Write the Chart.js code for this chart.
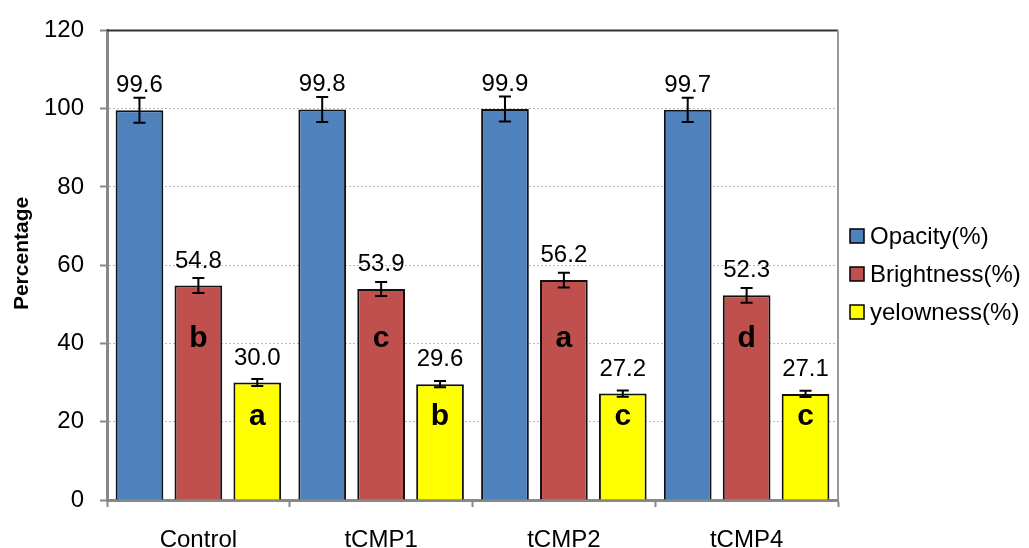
<!DOCTYPE html>
<html>
<head>
<meta charset="utf-8">
<script src="https://cdn.jsdelivr.net/npm/chart.js@4"></script>
<style>
  html, body { margin: 0; padding: 0; background: #fff; }
  #wrap { width: 1029px; height: 548px; }
</style>
</head>
<body>
<div id="wrap"><canvas id="chart" width="1029" height="548"></canvas></div>
<script>
// data
const categories = ["Control", "tCMP1", "tCMP2", "tCMP4"];
const opacity = [99.6, 99.8, 99.9, 99.7];
const brightness = [54.8, 53.9, 56.2, 52.3];
const yellowness = [30.0, 29.6, 27.2, 27.1];
const opacityErr = [3.2, 3.2, 3.2, 3.1];
const brightnessErr = [1.9, 1.8, 1.9, 1.9];
const yellownessErr = [0.9, 0.8, 0.8, 0.8];
const brightnessLetters = ["b", "c", "a", "d"];
const yellownessLetters = ["a", "b", "c", "c"];
const yTicks = [0, 20, 40, 60, 80, 100, 120];
const yTitle = "Percentage";

const FONT = "'Liberation Sans', Arial, sans-serif";

// error bars, value labels, letters, plot frame, axis title and legend
const extras = {
  id: "extras",
  afterDatasetsDraw(chart) {
    const ctx = chart.ctx;
    const y = chart.scales.y;
    const area = chart.chartArea;
    const errs = [opacityErr, brightnessErr, yellownessErr];
    const letters = [null, brightnessLetters, yellownessLetters];
    const letterAt = [null, 39, 19.1];

    ctx.save();
    chart.data.datasets.forEach((ds, di) => {
      const meta = chart.getDatasetMeta(di);
      meta.data.forEach((bar, i) => {
        const v = ds.data[i];
        const e = errs[di][i];
        const top = y.getPixelForValue(v + e);
        const bot = y.getPixelForValue(v - e);
        // error bar
        ctx.strokeStyle = "#000";
        ctx.lineWidth = 2;
        ctx.beginPath();
        ctx.moveTo(bar.x, top); ctx.lineTo(bar.x, bot);
        ctx.moveTo(bar.x - 6, top); ctx.lineTo(bar.x + 6, top);
        ctx.moveTo(bar.x - 6, bot); ctx.lineTo(bar.x + 6, bot);
        ctx.stroke();
        // value label
        ctx.fillStyle = "#000";
        ctx.font = "24px " + FONT;
        ctx.textAlign = "center";
        ctx.textBaseline = "alphabetic";
        ctx.fillText(v.toFixed(1), bar.x, y.getPixelForValue(v) - 18);
        // significance letter
        if (letters[di]) {
          ctx.font = "bold 30px " + FONT;
          ctx.fillText(letters[di][i], bar.x, y.getPixelForValue(letterAt[di]));
        }
      });
    });

    // frame: top solid, right grey
    ctx.lineWidth = 2;
    ctx.strokeStyle = "#333";
    ctx.beginPath();
    ctx.moveTo(area.left, area.top); ctx.lineTo(area.right, area.top);
    ctx.stroke();
    ctx.strokeStyle = "#999";
    ctx.beginPath();
    ctx.moveTo(area.right, area.top); ctx.lineTo(area.right, area.bottom);
    ctx.stroke();

    // y axis title (sits a bit above the middle in the original)
    ctx.save();
    ctx.translate(22, y.getPixelForValue(63));
    ctx.rotate(-Math.PI / 2);
    ctx.font = "bold 21px " + FONT;
    ctx.fillStyle = "#000";
    ctx.textAlign = "center";
    ctx.textBaseline = "middle";
    ctx.fillText(yTitle, 0, 0);
    ctx.restore();

    // legend
    const lx = area.right + 12;
    const cy = chart.height / 2;
    chart.data.datasets.forEach((ds, di) => {
      const ry = cy + (di - 1) * 38;
      ctx.fillStyle = ds.backgroundColor;
      ctx.fillRect(lx, ry - 7, 14, 14);
      ctx.strokeStyle = "#000";
      ctx.lineWidth = 1.5;
      ctx.strokeRect(lx, ry - 7, 14, 14);
      ctx.fillStyle = "#000";
      ctx.font = "24px " + FONT;
      ctx.textAlign = "left";
      ctx.textBaseline = "middle";
      ctx.fillText(ds.label, lx + 20, ry + 1);
    });
    ctx.restore();
  }
};

new Chart(document.getElementById("chart"), {
  type: "bar",
  data: {
    labels: categories,
    datasets: [
      { label: "Opacity(%)", data: opacity, backgroundColor: "#4F81BD" },
      { label: "Brightness(%)", data: brightness, backgroundColor: "#C0504D" },
      { label: "yelowness(%)", data: yellowness, backgroundColor: "#FFFF00" }
    ]
  },
  options: {
    responsive: false,
    animation: false,
    layout: { padding: { top: 27, right: 191, left: 0, bottom: 0 } },
    datasets: {
      bar: {
        borderColor: "#111",
        borderWidth: 2,
        categoryPercentage: 0.967,
        barPercentage: 0.81
      }
    },
    plugins: {
      legend: { display: false },
      tooltip: { enabled: false }
    },
    scales: {
      x: {
        afterFit: (s) => { s.height = 48; },
        grid: {
          offset: true,
          drawOnChartArea: false,
          tickLength: 7,
          tickColor: "#888",
          tickWidth: 2
        },
        border: { color: "#888", width: 3 },
        ticks: { color: "#000", font: { family: FONT, size: 24 }, padding: 19 }
      },
      y: {
        min: 0,
        max: 120,
        afterFit: (s) => { s.width = 107; },
        afterBuildTicks: (s) => { s.ticks = yTicks.map((v) => ({ value: v })); },
        grid: {
          color: "#bbbbbb",
          lineWidth: 1,
          tickLength: 7,
          tickColor: "#888",
          tickWidth: 2
        },
        border: { color: "#888", width: 3, dash: [2, 2] },
        ticks: { color: "#000", font: { family: FONT, size: 24 }, padding: 16 }
      }
    }
  },
  plugins: [extras]
});
</script>
</body>
</html>
